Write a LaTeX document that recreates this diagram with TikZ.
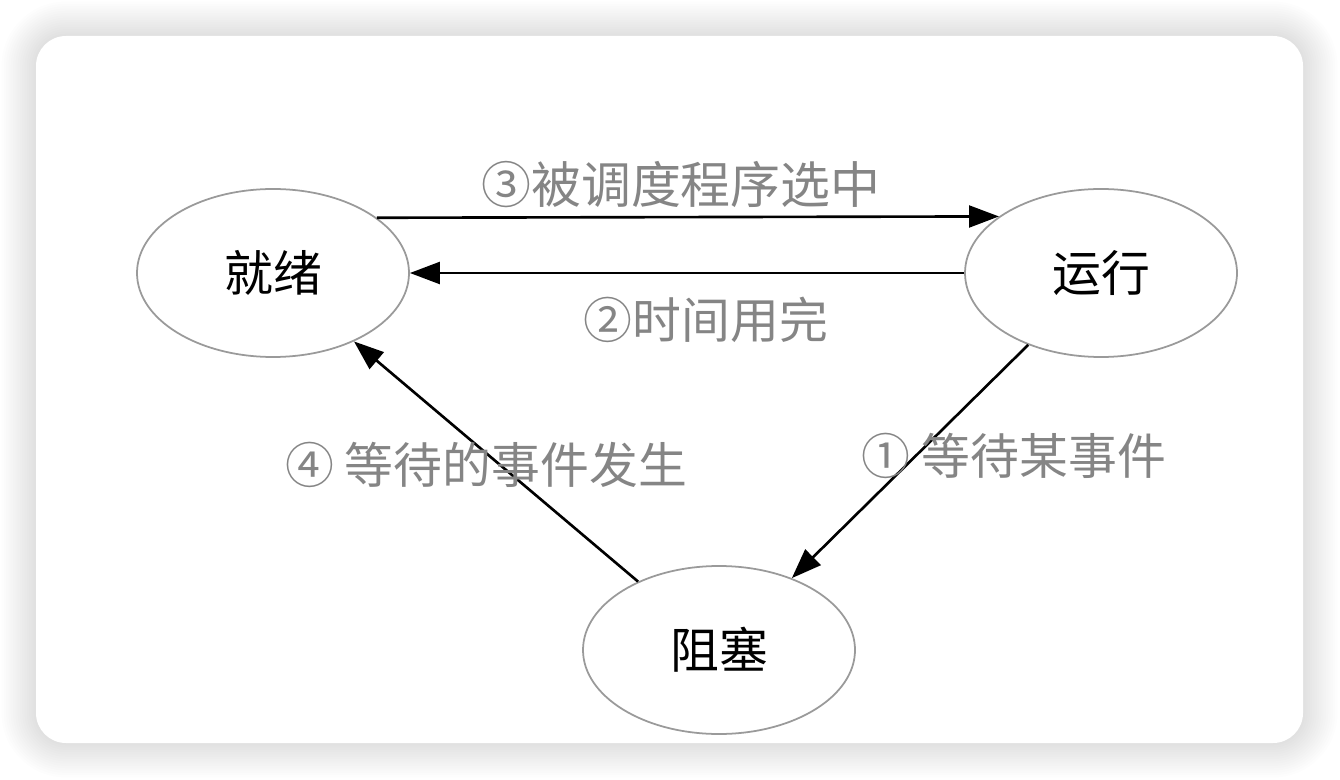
\documentclass[tikz,border=0pt]{standalone}
\usepackage{fontspec}
\setmainfont{Noto Sans CJK SC}
\usepackage{xcolor}
\usepackage{tikz}
\usetikzlibrary{shapes.geometric, arrows.meta, positioning, calc}

\definecolor{lblgray}{HTML}{858585}
\definecolor{edgegray}{HTML}{9A9A9A}

\begin{document}
\begin{tikzpicture}[
    state/.style={draw=edgegray, line width=0.5pt, ellipse, minimum width=2.72cm, minimum height=1.68cm, inner sep=0pt, font=\fontsize{13.9}{16}\selectfont},
    trans/.style={line width=0.75pt, -{Triangle[length=8.5pt, width=6.2pt]}},
    lbl/.style={text=lblgray, font=\fontsize{13.9}{16}\selectfont}
]
% Page and card with soft shadow
\useasboundingbox (0,0) rectangle (13.4,-7.8);
\fill[white] (0,0) rectangle (13.4,-7.8);
\foreach \s in {1,...,15}{
  \pgfmathsetmacro{\d}{\s*0.023}
  \pgfmathsetmacro{\r}{0.3+\s*0.023}
  \fill[black, opacity=0.009, rounded corners=\r cm] (0.36-\d,-0.36+\d) rectangle (13.03+\d,-7.43-\d);
}
\fill[white, rounded corners=0.3cm] (0.36,-0.36) rectangle (13.03,-7.43);

% States
\node[state] (jiuxu) at (2.73,-2.73) {就绪};
\node[state] (yunxing) at (11.01,-2.73) {运行};
\node[state] (zuse) at (7.19,-6.50) {阻塞};

% Transitions
\draw[trans] (jiuxu.28.2) -- node[above=-1pt, lbl, font=\fontsize{14.2}{17}\selectfont, xshift=-0.07cm] {③被调度程序选中} (yunxing.151.8);
\draw[trans] (yunxing.west) -- node[below=3pt, lbl, xshift=0.19cm] {②时间用完} (jiuxu.east);
\draw[trans] (yunxing) -- node[lbl, xshift=1.04cm, yshift=0.06cm] {① 等待某事件} (zuse);
\draw[trans] (zuse) -- node[lbl, xshift=-0.1cm, yshift=-0.03cm] {④ 等待的事件发生} (jiuxu);

\end{tikzpicture}
\end{document}
